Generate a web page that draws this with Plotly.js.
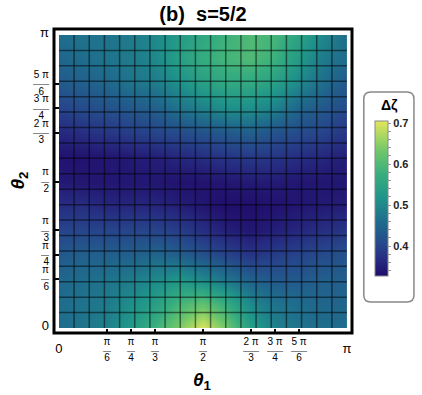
<!DOCTYPE html>
<html><head><meta charset="utf-8">
<script src="https://cdn.plot.ly/plotly-3.0.1.min.js"></script>
<style>html,body{margin:0;padding:0;background:#fff}#chart{width:422px;height:395px}</style>
</head><body><div id="chart"></div>
<script>
// grid of sample angles (multiples of pi/12)
const theta1 = [0, 0.2618, 0.5236, 0.7854, 1.0472, 1.3090, 1.5708, 1.8326, 2.0944, 2.3562, 2.6180, 2.8798, 3.1416];
const theta2 = [0, 0.2618, 0.5236, 0.7854, 1.0472, 1.3090, 1.5708, 1.8326, 2.0944, 2.3562, 2.6180, 2.8798, 3.1416];
// rows: theta2 from 0 to pi ; columns: theta1 from 0 to pi
const deltaZeta = [
  [0.46, 0.47, 0.49, 0.53, 0.58, 0.64, 0.70, 0.63, 0.54, 0.49, 0.47, 0.46, 0.46],
  [0.46, 0.47, 0.48, 0.51, 0.54, 0.59, 0.62, 0.57, 0.50, 0.47, 0.46, 0.45, 0.45],
  [0.45, 0.46, 0.47, 0.48, 0.50, 0.52, 0.50, 0.47, 0.44, 0.43, 0.43, 0.44, 0.44],
  [0.43, 0.44, 0.44, 0.44, 0.45, 0.44, 0.42, 0.40, 0.38, 0.39, 0.40, 0.41, 0.42],
  [0.40, 0.40, 0.40, 0.40, 0.40, 0.39, 0.37, 0.35, 0.34, 0.35, 0.36, 0.37, 0.38],
  [0.37, 0.37, 0.36, 0.36, 0.36, 0.35, 0.34, 0.33, 0.33, 0.335, 0.34, 0.345, 0.35],
  [0.345, 0.34, 0.34, 0.34, 0.34, 0.335, 0.335, 0.34, 0.345, 0.345, 0.34, 0.34, 0.34],
  [0.335, 0.335, 0.34, 0.345, 0.35, 0.36, 0.37, 0.38, 0.385, 0.38, 0.37, 0.36, 0.35],
  [0.36, 0.37, 0.38, 0.39, 0.40, 0.41, 0.42, 0.43, 0.44, 0.42, 0.41, 0.40, 0.38],
  [0.40, 0.41, 0.42, 0.43, 0.44, 0.47, 0.49, 0.51, 0.51, 0.49, 0.45, 0.43, 0.41],
  [0.43, 0.44, 0.45, 0.47, 0.48, 0.51, 0.54, 0.56, 0.56, 0.54, 0.50, 0.46, 0.43],
  [0.45, 0.46, 0.47, 0.48, 0.50, 0.54, 0.57, 0.59, 0.60, 0.58, 0.53, 0.48, 0.46],
  [0.46, 0.47, 0.47, 0.48, 0.50, 0.53, 0.56, 0.58, 0.60, 0.59, 0.55, 0.50, 0.46]
];
const tickVals = [0, 0.5236, 0.7854, 1.0472, 1.5708, 2.0944, 2.3562, 2.6180, 3.1416];
const tickNums = ["0", "π", "π", "π", "π", "2 π", "3 π", "5 π", "π"];
const tickDens = ["", "6", "4", "3", "2", "3", "4", "6", ""];
const cbTickVals = [0.34,0.36,0.38,0.40,0.42,0.44,0.46,0.48,0.50,0.52,0.54,0.56,0.58,0.60,0.62,0.64,0.66,0.68,0.70];
const cbMajor = ["0.4", "0.5", "0.6", "0.7"];
const meshCount = 19;

const FONT = "Liberation Sans, Arial, sans-serif";
const FS = 10;
function fracLabel(num, den, isX) {
  if (!den) {
    const big = "<span style='font-size:13px'>" + num + "</span>";
    return isX ? "\u00a0<br>" + big : big;
  }
  const wide = num.length > 1;
  const bar = wide ? "——" : "—";
  const pad = (!isX && wide) ? "\u2002" : "";
  return "<span style='font-size:" + FS + "px'>" + num + "</span><br>" +
         "<span style='font-size:8px'>" + bar + "</span><br>" +
         "<span style='font-size:" + FS + "px'>" + den + pad + "</span>";
}
const xText = tickNums.map((n, i) => fracLabel(n, tickDens[i], true));
const yText = tickNums.map((n, i) => fracLabel(n, tickDens[i], false));

// mesh lines
const PI = 3.1416;
const mx = [], my = [];
for (let k = 1; k < meshCount; k++) {
  const v = k * Math.PI / meshCount;
  mx.push(v, v, null); my.push(0, Math.PI, null);
  mx.push(0, Math.PI, null); my.push(v, v, null);
}

const colorscale = [
  [0.0, '#200c6a'], [0.1, '#262a80'], [0.2, '#26468b'], [0.35, '#1f6c8c'],
  [0.5, '#1f938a'], [0.65, '#36ad7f'], [0.8, '#6cc66b'], [0.9, '#a6d762'], [1.0, '#e5e55a']
];

// paper: x 54..357, y 29..333
const px = x => (x - 54) / 303, py = y => (333 - y) / 304;

const heat = {
  type: 'heatmap', x: theta1, y: theta2, z: deltaZeta, zsmooth: 'best',
  zmin: 0.327, zmax: 0.705, colorscale: colorscale, hoverinfo: 'skip',
  colorbar: {
    x: px(380), xanchor: 'left', xpad: 0,
    y: py(121), yanchor: 'top', ypad: 0,
    len: 155, lenmode: 'pixels', thickness: 13, thicknessmode: 'pixels',
    outlinewidth: 1, outlinecolor: '#888',
    tickmode: 'array', tickvals: cbTickVals,
    ticktext: cbTickVals.map(v => cbMajor.indexOf(v.toFixed(2).replace(/0$/, '')) >= 0 ? v.toFixed(1) : ' '),
    ticks: 'outside', ticklen: 3, tickwidth: 1, tickcolor: '#999',
    tickfont: {family: FONT, size: 11, color: '#222', weight: 'bold'},
    title: {text: ''}
  }
};
const mesh = {
  type: 'scatter', mode: 'lines', x: mx, y: my, hoverinfo: 'skip',
  line: {color: 'rgba(0,0,0,0.5)', width: 1.5}, showlegend: false
};

const bx0 = px(369), bx1 = px(420), byT = py(92), byB = py(302), rx = 7/303, ry = 7/304;
const boxPath = `M ${bx0+rx},${byT} L ${bx1-rx},${byT} Q ${bx1},${byT} ${bx1},${byT-ry} L ${bx1},${byB+ry} Q ${bx1},${byB} ${bx1-rx},${byB} L ${bx0+rx},${byB} Q ${bx0},${byB} ${bx0},${byB+ry} L ${bx0},${byT-ry} Q ${bx0},${byT} ${bx0+rx},${byT} Z`;

const layout = {
  width: 422, height: 395,
  margin: {l: 54, r: 65, t: 29, b: 62},
  paper_bgcolor: '#fff', plot_bgcolor: '#fff',
  showlegend: false,
  title: {text: '<b>(b)\u00a0 s=5/2</b>', font: {family: FONT, size: 20, color: '#000'},
          x: 0.5, xref: 'paper', y: 1 - 14/395, yref: 'container', yanchor: 'middle'},
  xaxis: {
    domain: [px(59), px(352)], range: [0, PI], anchor: 'free', position: 0,
    showgrid: false, zeroline: false, showline: false,
    tickmode: 'array', tickvals: tickVals, ticktext: xText,
    ticks: 'inside', ticklen: 4, tickwidth: 2, tickcolor: '#000',
    tickfont: {family: FONT, size: 6.5, color: '#000'}, ticklabelstandoff: 4
  },
  yaxis: {
    domain: [py(328), py(35)], range: [0, PI], anchor: 'free', position: 0,
    showgrid: false, zeroline: false, showline: false,
    tickmode: 'array', tickvals: tickVals, ticktext: yText,
    ticks: 'inside', ticklen: 4, tickwidth: 2, tickcolor: '#000',
    tickfont: {family: FONT, size: 6.5, color: '#000'}, ticklabelstandoff: 5
  },
  shapes: [
    {type: 'rect', xref: 'paper', yref: 'paper', x0: 0, x1: 1, y0: 0, y1: 1,
     line: {color: '#000', width: 3}, layer: 'above'},
    {type: 'path', xref: 'paper', yref: 'paper', path: boxPath,
     line: {color: '#888', width: 1.5}, fillcolor: 'rgba(0,0,0,0)'}
  ],
  annotations: [
    {xref: 'paper', yref: 'paper', x: px(395), y: py(105), text: '<b>Δζ</b>', showarrow: false,
     font: {family: FONT, size: 14, color: '#000'}, xanchor: 'center', yanchor: 'middle'},
    {xref: 'paper', yref: 'paper', x: px(205), y: py(381), text: '<b><i>θ</i></b><b><sub>1</sub></b>', showarrow: false,
     font: {family: FONT, size: 19, color: '#000'}, xanchor: 'center', yanchor: 'middle'},
    {xref: 'paper', yref: 'paper', x: px(18), y: py(181), text: '<b><i>θ</i></b><b><sub>2</sub></b>', showarrow: false,
     font: {family: FONT, size: 19, color: '#000'}, xanchor: 'center', yanchor: 'middle', textangle: -90}
  ]
};
Plotly.newPlot('chart', [heat, mesh], layout, {staticPlot: true, displayModeBar: false});
</script></body></html>
